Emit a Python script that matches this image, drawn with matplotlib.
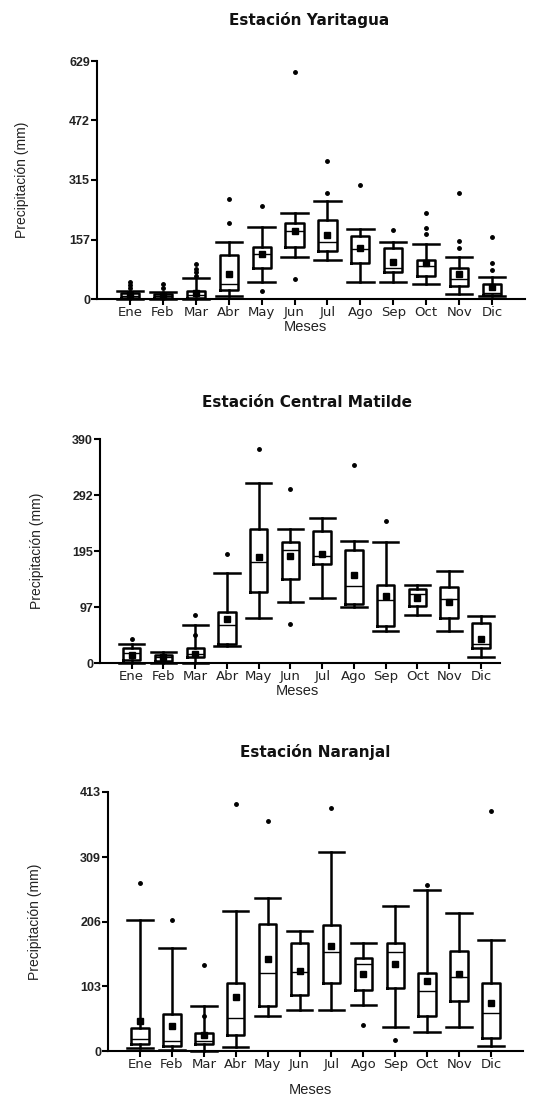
import numpy as np
import matplotlib
matplotlib.use('Agg')
import matplotlib.pyplot as plt

# Meses (etiquetas del eje x)
meses = ["Ene", "Feb", "Mar", "Abr", "May", "Jun", "Jul", "Ago", "Sep", "Oct", "Nov", "Dic"]

# Estacion Yaritagua
yar_min = [0, 0, 0, 7, 46, 111, 102, 46, 46, 40, 13, 7]
yar_q1 = [3, 2, 3, 23, 81, 137, 128, 96, 72, 60, 35, 11]
yar_med = [8, 8, 10, 40, 119, 180, 151, 133, 83, 88, 54, 16]
yar_q3 = [15, 13, 21, 116, 138, 201, 210, 166, 134, 103, 83, 40]
yar_max = [22, 18, 55, 151, 189, 227, 259, 184, 150, 146, 111, 57]
yar_media = [10, 9, 15, 67, 118, 181, 170, 134, 97, 96, 66, 31]
yar_atip = [[30, 38, 45], [29, 40], [60, 72, 80, 92], [201, 265], [22, 246], [53, 600],
            [281, 364], [301], [183], [173, 188, 228], [134, 152, 281], [77, 95, 165]]
yar_ticks = [0, 157, 315, 472, 629]

# Estacion Central Matilde
mat_min = [0, 0, 0, 29, 78, 106, 113, 98, 56, 83, 56, 10]
mat_q1 = [5, 4, 10, 33, 124, 147, 172, 102, 65, 100, 79, 26]
mat_med = [18, 10, 16, 66, 176, 197, 187, 134, 110, 120, 112, 33]
mat_q3 = [26, 14, 26, 88, 234, 210, 229, 197, 136, 129, 132, 69]
mat_max = [33, 19, 66, 157, 313, 234, 252, 213, 210, 135, 160, 81]
mat_media = [14, 10, 16, 76, 184, 187, 190, 154, 117, 114, 107, 41]
mat_atip = [[41], [], [48, 83], [190], [373], [68, 303], [], [345], [247], [], [], []]
mat_ticks = [0, 97, 195, 292, 390]

# Estacion Naranjal
nar_min = [4, 1, 0, 7, 56, 65, 65, 73, 39, 31, 39, 8]
nar_q1 = [11, 8, 11, 25, 72, 90, 108, 97, 101, 56, 80, 21]
nar_med = [19, 16, 16, 52, 125, 126, 158, 139, 158, 96, 118, 60]
nar_q3 = [37, 59, 29, 108, 203, 172, 201, 149, 172, 125, 160, 108]
nar_max = [209, 165, 72, 223, 244, 192, 317, 172, 232, 257, 220, 177]
nar_media = [48, 40, 25, 86, 146, 127, 167, 123, 139, 112, 122, 77]
nar_atip = [[268], [209], [56, 137], [394], [367], [], [388], [41], [18], [265], [], [382]]
nar_ticks = [0, 103, 206, 309, 413]


def estadisticas(mn, q1, med, q3, mx, media, atip):
    stats = []
    for i in range(len(mn)):
        stats.append({"whislo": mn[i], "q1": q1[i], "med": med[i], "q3": q3[i],
                      "whishi": mx[i], "mean": media[i], "fliers": atip[i]})
    return stats


def graficar(ax, stats, ticks, xmax):
    lw = 1.8
    art = ax.bxp(stats, positions=np.arange(1, 13), widths=0.55, capwidths=0.8,
                 showmeans=True, patch_artist=False,
                 boxprops=dict(color='black', linewidth=lw),
                 whiskerprops=dict(color='black', linewidth=lw),
                 capprops=dict(color='black', linewidth=lw),
                 medianprops=dict(color='black', linewidth=1.0),
                 meanprops=dict(marker='s', markerfacecolor='black', markeredgecolor='black',
                                markersize=5),
                 flierprops=dict(marker='o', markerfacecolor='black', markeredgecolor='black',
                                 markersize=2.5))
    for k in art:
        for a in art[k]:
            a.set_clip_on(False)
    ax.set_xlim(0, xmax)
    ax.set_ylim(0, ticks[-1])
    ax.set_yticks(ticks)
    ax.set_yticklabels([str(t) for t in ticks], fontsize=9, color='#222222', fontweight='bold')
    ax.set_xticks(np.arange(1, 13))
    ax.set_xticklabels(meses, fontsize=9.5, color='#222222', family='DejaVu Sans')
    ax.spines['top'].set_visible(False)
    ax.spines['right'].set_visible(False)
    ax.spines['left'].set_linewidth(1.5)
    ax.spines['bottom'].set_linewidth(1.5)
    ax.tick_params(direction='out', length=4, width=1.5, pad=1)
    ax.set_ylabel('Precipitación (mm)', fontsize=10, color='#222222', family='Liberation Sans')


plt.rcParams['font.family'] = ['Liberation Sans', 'DejaVu Sans']
fig = plt.figure(figsize=(5.57, 11.01), dpi=100)
W, H = 557.0, 1101.0

ax1 = fig.add_axes([97 / W, 1 - 299 / H, 428 / W, 238 / H])
graficar(ax1, estadisticas(yar_min, yar_q1, yar_med, yar_q3, yar_max, yar_media, yar_atip), yar_ticks, 13)
ax1.yaxis.set_label_coords(-0.16, 0.5)

ax2 = fig.add_axes([100 / W, 1 - 663 / H, 400 / W, 224 / H])
graficar(ax2, estadisticas(mat_min, mat_q1, mat_med, mat_q3, mat_max, mat_media, mat_atip), mat_ticks, 12.6)
ax2.yaxis.set_label_coords(-0.14, 0.5)

ax3 = fig.add_axes([108 / W, 1 - 1051 / H, 415 / W, 259 / H])
graficar(ax3, estadisticas(nar_min, nar_q1, nar_med, nar_q3, nar_max, nar_media, nar_atip), nar_ticks, 13)
ax3.yaxis.set_label_coords(-0.16, 0.5)

titulo = dict(fontsize=11, fontweight='bold', family='DejaVu Sans', ha='center', va='center', color='#111111')
fig.text(309 / W, 1 - 20 / H, 'Estación Yaritagua', **titulo)
fig.text(307 / W, 1 - 402 / H, 'Estación Central Matilde', **titulo)
fig.text(315 / W, 1 - 752 / H, 'Estación Naranjal', **titulo)

meses_lbl = dict(fontsize=10.5, ha='center', va='center', color='#222222')
fig.text(305 / W, 1 - 327 / H, 'Meses', **meses_lbl)
fig.text(297 / W, 1 - 691 / H, 'Meses', **meses_lbl)
fig.text(310 / W, 1 - 1090 / H, 'Meses', **meses_lbl)

fig.savefig('out.png', dpi=100)
